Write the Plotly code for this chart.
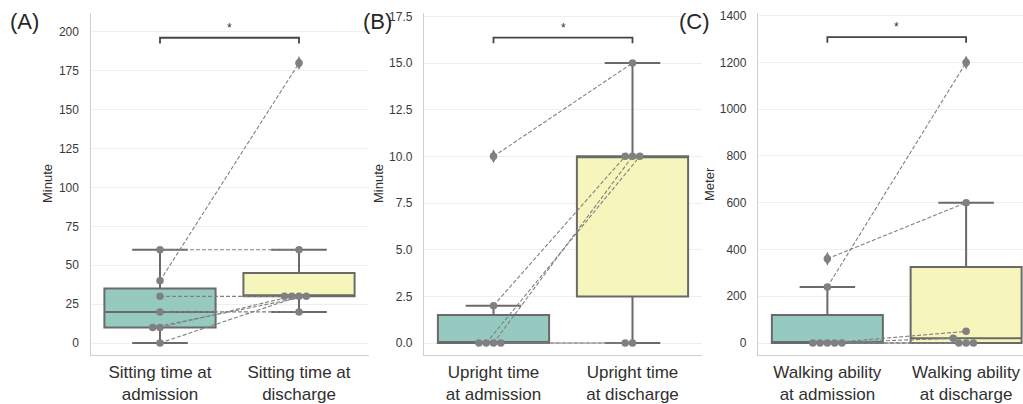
import numpy as np
import plotly.graph_objects as go

# ---------------- data (paired per subject) ----------------
# Panel A: sitting time (minutes)
sit_adm = [0, 10, 10, 20, 30, 40, 60]
sit_dis = [30, 30, 30, 20, 30, 180, 60]
# Panel B: upright time (minutes)
up_adm = [10, 0, 2, 0, 0, 0]
up_dis = [15, 10, 10, 10, 0, 0]
# Panel C: walking ability (meters)
walk_adm = [240, 360, 0, 0, 0, 0, 0]
walk_dis = [1200, 600, 50, 20, 0, 0, 0]

labels_A = ["Sitting time at<br>admission", "Sitting time at<br>discharge"]
labels_B = ["Upright time<br>at admission", "Upright time<br>at discharge"]
labels_C = ["Walking ability<br>at admission", "Walking ability<br>at discharge"]
ytitles = ["Minute", "Minute", "Meter"]
panel_letters = ["(A)", "(B)", "(C)"]
yticks_A = [0, 25, 50, 75, 100, 125, 150, 175, 200]
yticks_B = [0, 2.5, 5, 7.5, 10, 12.5, 15, 17.5]
yticks_C = [0, 200, 400, 600, 800, 1000, 1200, 1400]
sig_text = "*"

# ---------------- styling / layout ----------------
W, H = 1023, 404
MT, MB = 13, 49
PLOT_H = H - MT - MB
FONT = "Liberation Sans, Arial, sans-serif"
TEAL = "#96cac1"
YELLOW = "#f6f6bc"
EDGE = "#6a6a6a"
DOT = "#808080"
TXT = "#303030"
UNIT_PX = 139.0
DOT_D = 7.3

panels = [
    dict(adm=sit_adm, dis=sit_dis, labels=labels_A, ticks=yticks_A, fmt="d",
         yr=[-7.7, 212.2], xr=[-0.5, 1.5], dom=[90.5 / W, 368.5 / W]),
    dict(adm=up_adm, dis=up_dis, labels=labels_B, ticks=yticks_B, fmt=".1f",
         yr=[-0.64, 17.68], xr=[-0.5, 1.5], dom=[424 / W, 702 / W]),
    dict(adm=walk_adm, dis=walk_dis, labels=labels_C, ticks=yticks_C, fmt="d",
         yr=[-51.3, 1411.5], xr=[-0.5, 1.41], dom=[758 / W, 1.0]),
]


def box_stats(vals):
    v = np.asarray(vals, float)
    q1, med, q3 = np.percentile(v, [25, 50, 75])
    iqr = q3 - q1
    lo_lim, hi_lim = q1 - 1.5 * iqr, q3 + 1.5 * iqr
    inside = v[(v >= lo_lim) & (v <= hi_lim)]
    out = v[(v < lo_lim) | (v > hi_lim)]
    return q1, med, q3, inside.min(), inside.max(), out


def swarm(values, ypx):
    order = sorted(range(len(values)), key=lambda i: values[i])
    placed = []
    off = [0.0] * len(values)
    d = DOT_D
    for i in order:
        y = values[i] * ypx
        cands = [0.0]
        for (px, py) in placed:
            dy = abs(y - py)
            if dy < d:
                dx = np.sqrt(d * d - dy * dy)
                cands += [px - dx, px + dx]
        valid = [c for c in cands
                 if all((c - px) ** 2 + (y - py) ** 2 >= d * d - 1e-6 for px, py in placed)]
        best = min(valid, key=lambda c: (round(abs(c), 6), c))
        placed.append((best, y))
        off[i] = best / UNIT_PX
    return off


fig = go.Figure()
shapes = []
annotations = []

for k, p in enumerate(panels):
    xa = "x" if k == 0 else f"x{k+1}"
    ya = "y" if k == 0 else f"y{k+1}"
    ypx = PLOT_H / (p["yr"][1] - p["yr"][0])

    # boxes
    for pos, (vals, col) in enumerate([(p["adm"], TEAL), (p["dis"], YELLOW)]):
        q1, med, q3, lf, uf, out = box_stats(vals)
        fig.add_trace(go.Box(
            x=[pos], q1=[q1], median=[med], q3=[q3], lowerfence=[lf], upperfence=[uf],
            width=0.8, whiskerwidth=0.5, fillcolor=col,
            line=dict(color=EDGE, width=2), boxpoints=False,
            xaxis=xa, yaxis=ya, showlegend=False, hoverinfo="skip"))

    # swarm positions
    off_a = swarm(p["adm"], ypx)
    off_d = swarm(p["dis"], ypx)
    xs_a = [0 + o for o in off_a]
    xs_d = [1 + o for o in off_d]

    # paired dashed lines
    lx, ly = [], []
    for i in range(len(p["adm"])):
        lx += [xs_a[i], xs_d[i], None]
        ly += [p["adm"][i], p["dis"][i], None]
    fig.add_trace(go.Scatter(x=lx, y=ly, mode="lines",
                             line=dict(color=DOT, width=1.1, dash="4px,2px"),
                             xaxis=xa, yaxis=ya, showlegend=False, hoverinfo="skip"))

    # outliers (fliers)
    for pos, vals in enumerate([p["adm"], p["dis"]]):
        out = box_stats(vals)[5]
        if len(out):
            fig.add_trace(go.Scatter(x=[pos] * len(out), y=list(out), mode="markers",
                                     marker=dict(symbol="diamond-tall", size=10, color=DOT,
                                                 line=dict(width=0)),
                                     xaxis=xa, yaxis=ya, showlegend=False, hoverinfo="skip"))

    # swarm dots
    fig.add_trace(go.Scatter(x=xs_a + xs_d, y=list(p["adm"]) + list(p["dis"]), mode="markers",
                             marker=dict(size=7.5, color=DOT, line=dict(width=0)),
                             xaxis=xa, yaxis=ya, showlegend=False, hoverinfo="skip"))

    # significance bracket
    span = p["yr"][1] - p["yr"][0]
    top = max(max(p["adm"]), max(p["dis"])) + 0.074 * span
    leg = top - 0.0165 * span
    shapes.append(dict(type="path", xref=xa, yref=ya,
                       path=f"M 0,{leg} L 0,{top} L 1,{top} L 1,{leg}",
                       line=dict(color="#454545", width=1.8)))
    annotations.append(dict(x=0.5, y=top, xref=xa, yref=ya, text=sig_text, showarrow=False,
                            xanchor="center", yanchor="bottom", yshift=1,
                            font=dict(size=12, color=TXT, family=FONT)))

    # axes
    xkey = "xaxis" if k == 0 else f"xaxis{k+1}"
    ykey = "yaxis" if k == 0 else f"yaxis{k+1}"
    fig.layout[xkey] = dict(domain=p["dom"], range=p["xr"], anchor=ya,
                            tickvals=[0, 1], ticktext=p["labels"], showgrid=False,
                            zeroline=False, showline=True, linecolor="#cfcfcf", linewidth=1.3,
                            ticks="", ticklabelstandoff=1,
                            tickfont=dict(size=17, color=TXT, family=FONT))
    fig.layout[ykey] = dict(domain=[0, 1], range=p["yr"], anchor=xa,
                            tickvals=p["ticks"], tickformat=p["fmt"], showgrid=True,
                            gridcolor="#efefef", gridwidth=1, zeroline=False,
                            showline=True, linecolor="#cfcfcf", linewidth=1.3,
                            ticks="", ticklabelstandoff=8,
                            tickfont=dict(size=12, color="#3a3a3a", family=FONT))

# y titles and panel letters
title_x = [47, 378, 709]
letter_x = [24, 377, 694]
for k in range(3):
    annotations.append(dict(x=title_x[k] / W, y=0.5, xref="paper", yref="paper",
                            xanchor="center", yanchor="middle",
                            text=ytitles[k], textangle=-90, showarrow=False,
                            font=dict(size=13, color=TXT, family=FONT)))
    annotations.append(dict(x=letter_x[k] / W, y=(H - MB - 22) / PLOT_H, xref="paper",
                            yref="paper", xanchor="center", yanchor="middle",
                            text=panel_letters[k], showarrow=False,
                            font=dict(size=22, color="#262626", family=FONT)))

fig.update_layout(width=W, height=H, margin=dict(l=0, r=0, t=MT, b=MB, autoexpand=False),
                  plot_bgcolor="white", paper_bgcolor="white",
                  shapes=shapes, annotations=annotations, showlegend=False)

fig.write_html("out.html", config={"displayModeBar": False},
               post_script="document.body.style.margin='0';document.body.style.overflow='hidden';")
